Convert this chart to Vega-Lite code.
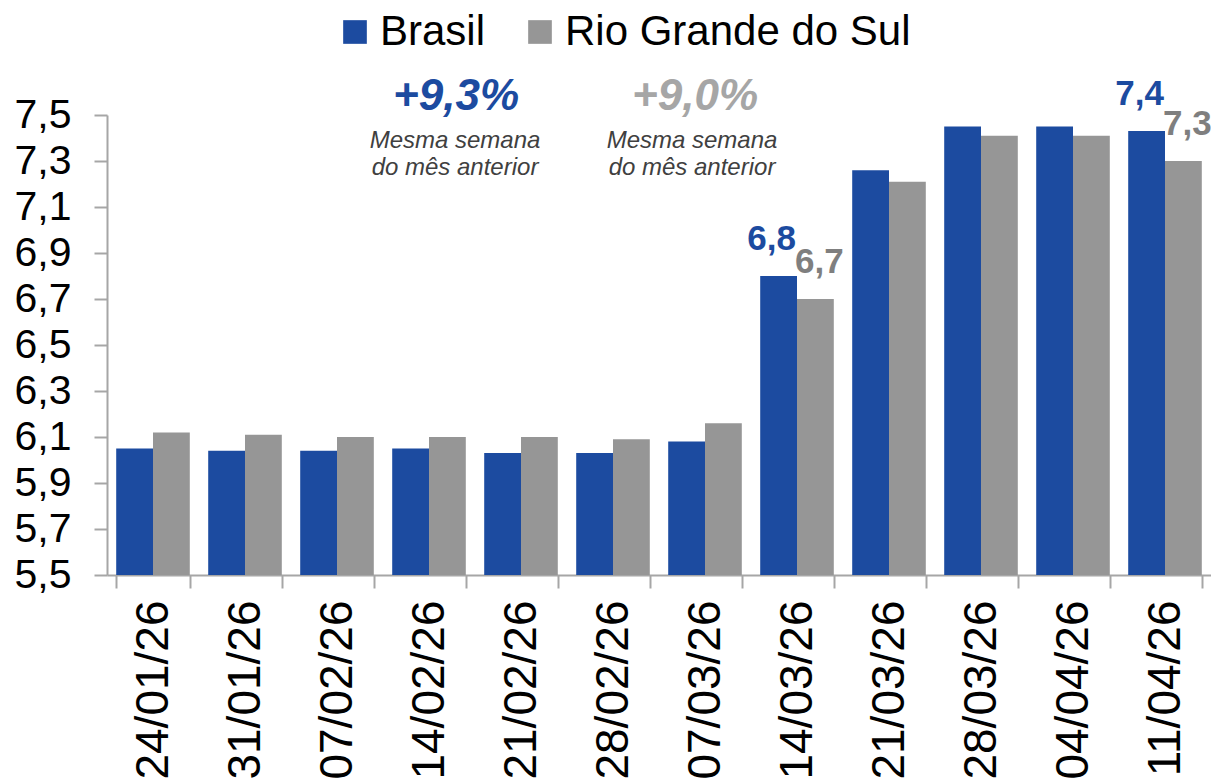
{
  "$schema": "https://vega.github.io/schema/vega-lite/v6.json",
  "autosize": "none",
  "width": 1104,
  "height": 460,
  "padding": {"left": 107, "top": 115, "right": 0, "bottom": 208},
  "background": "white",
  "config": {
    "view": {"stroke": null},
    "font": "Liberation Sans",
    "locale": {"number": {"decimal": ",", "thousands": ".", "grouping": [3], "currency": ["R$", ""]}}
  },
  "datasets": {
    "bars": [
      {"date": "24/01/26", "series": "Brasil", "value": 6.05, "show": false},
      {"date": "31/01/26", "series": "Brasil", "value": 6.04, "show": false},
      {"date": "07/02/26", "series": "Brasil", "value": 6.04, "show": false},
      {"date": "14/02/26", "series": "Brasil", "value": 6.05, "show": false},
      {"date": "21/02/26", "series": "Brasil", "value": 6.03, "show": false},
      {"date": "28/02/26", "series": "Brasil", "value": 6.03, "show": false},
      {"date": "07/03/26", "series": "Brasil", "value": 6.08, "show": false},
      {"date": "14/03/26", "series": "Brasil", "value": 6.80, "show": true},
      {"date": "21/03/26", "series": "Brasil", "value": 7.26, "show": false},
      {"date": "28/03/26", "series": "Brasil", "value": 7.45, "show": false},
      {"date": "04/04/26", "series": "Brasil", "value": 7.45, "show": false},
      {"date": "11/04/26", "series": "Brasil", "value": 7.43, "show": true},
      {"date": "24/01/26", "series": "Rio Grande do Sul", "value": 6.12, "show": false},
      {"date": "31/01/26", "series": "Rio Grande do Sul", "value": 6.11, "show": false},
      {"date": "07/02/26", "series": "Rio Grande do Sul", "value": 6.10, "show": false},
      {"date": "14/02/26", "series": "Rio Grande do Sul", "value": 6.10, "show": false},
      {"date": "21/02/26", "series": "Rio Grande do Sul", "value": 6.10, "show": false},
      {"date": "28/02/26", "series": "Rio Grande do Sul", "value": 6.09, "show": false},
      {"date": "07/03/26", "series": "Rio Grande do Sul", "value": 6.16, "show": false},
      {"date": "14/03/26", "series": "Rio Grande do Sul", "value": 6.70, "show": true},
      {"date": "21/03/26", "series": "Rio Grande do Sul", "value": 7.21, "show": false},
      {"date": "28/03/26", "series": "Rio Grande do Sul", "value": 7.41, "show": false},
      {"date": "04/04/26", "series": "Rio Grande do Sul", "value": 7.41, "show": false},
      {"date": "11/04/26", "series": "Rio Grande do Sul", "value": 7.30, "show": true}
    ],
    "notes": [
      {"date": "14/02/26", "series": "Brasil", "pct": "+9,3%", "note": "Mesma semana\ndo mês anterior"},
      {"date": "07/03/26", "series": "Rio Grande do Sul", "pct": "+9,0%", "note": "Mesma semana\ndo mês anterior"}
    ]
  },
  "layer": [
    {
      "data": {"name": "bars"},
      "mark": {"type": "bar"},
      "encoding": {
        "x": {
          "field": "date", "type": "nominal", "sort": null,
          "scale": {"paddingInner": 0.2, "paddingOuter": 0.1},
          "axis": {
            "title": null, "labelAngle": 270, "labelFontSize": 46, "labelColor": "#000000",
            "labelPadding": 12, "tickSize": 13, "tickWidth": 2, "tickColor": "#a6a6a6",
            "domainColor": "#a6a6a6", "domainWidth": 2, "tickBand": "extent", "labelFont": "Liberation Sans"
          }
        },
        "y": {
          "field": "value", "type": "quantitative",
          "scale": {"domain": [5.5, 7.5], "nice": false, "zero": false},
          "axis": {
            "title": null, "values": [5.5, 5.7, 5.9, 6.1, 6.3, 6.5, 6.7, 6.9, 7.1, 7.3, 7.5],
            "format": ".1f", "labelFontSize": 41, "labelColor": "#000000", "labelPadding": 23,
            "tickSize": 13, "tickWidth": 2, "tickColor": "#a6a6a6", "domainColor": "#a6a6a6",
            "domainWidth": 2, "grid": false, "labelOverlap": false, "labelFlush": false, "labelFont": "Liberation Sans"
          }
        },
        "xOffset": {"field": "series", "type": "nominal", "sort": ["Brasil", "Rio Grande do Sul"]},
        "y2": {"datum": 5.5},
        "color": {
          "field": "series", "type": "nominal",
          "scale": {"domain": ["Brasil", "Rio Grande do Sul"], "range": ["#1c4ba0", "#969696"]},
          "legend": {
            "title": null, "orient": "none", "legendX": 227, "legendY": -104,
            "direction": "horizontal", "symbolType": "square", "symbolSize": 560,
            "symbolStrokeWidth": 0, "labelFontSize": 42, "labelColor": "#000000",
            "labelFont": "Liberation Sans", "labelOffset": 4, "columnPadding": 33, "padding": 0,
            "labelLimit": 500
          }
        }
      }
    },
    {
      "data": {"name": "bars"},
      "transform": [{"filter": "datum.show && datum.series === 'Brasil'"}],
      "mark": {"type": "text", "fontSize": 35, "fontWeight": "bold", "baseline": "alphabetic", "dy": -26, "dx": -7, "align": "center", "color": "#1c4ba0"},
      "encoding": {
        "x": {"field": "date", "type": "nominal", "sort": null},
        "y": {"field": "value", "type": "quantitative"},
        "xOffset": {"field": "series", "type": "nominal", "sort": ["Brasil", "Rio Grande do Sul"]},
        "text": {"field": "value", "type": "quantitative", "format": ".1f"}
      }
    },
    {
      "data": {"name": "bars"},
      "transform": [{"filter": "datum.show && datum.series !== 'Brasil'"}],
      "mark": {"type": "text", "fontSize": 35, "fontWeight": "bold", "baseline": "alphabetic", "dy": -26, "dx": 4, "align": "center", "color": "#7f7f7f"},
      "encoding": {
        "x": {"field": "date", "type": "nominal", "sort": null},
        "y": {"field": "value", "type": "quantitative"},
        "xOffset": {"field": "series", "type": "nominal", "sort": ["Brasil", "Rio Grande do Sul"]},
        "text": {"field": "value", "type": "quantitative", "format": ".1f"}
      }
    },
    {
      "data": {"name": "notes"},
      "transform": [{"filter": "datum.series === 'Brasil'"}],
      "mark": {"type": "text", "fontSize": 44, "fontWeight": "bold", "fontStyle": "italic", "color": "#1c4ba0", "baseline": "alphabetic", "align": "center", "dx": 27, "dy": -5, "clip": false},
      "encoding": {
        "x": {"field": "date", "type": "nominal", "sort": null},
        "y": {"value": 0},
        "text": {"field": "pct", "type": "nominal"}
      }
    },
    {
      "data": {"name": "notes"},
      "transform": [{"filter": "datum.series !== 'Brasil'"}],
      "mark": {"type": "text", "fontSize": 44, "fontWeight": "bold", "fontStyle": "italic", "color": "#a6a6a6", "baseline": "alphabetic", "align": "center", "dx": -10, "dy": -5, "clip": false},
      "encoding": {
        "x": {"field": "date", "type": "nominal", "sort": null},
        "y": {"value": 0},
        "text": {"field": "pct", "type": "nominal"}
      }
    },
    {
      "data": {"name": "notes"},
      "transform": [{"filter": "datum.series === 'Brasil'"}],
      "mark": {"type": "text", "fontSize": 24, "fontStyle": "italic", "color": "#404040", "baseline": "alphabetic", "align": "center", "lineBreak": "\n", "lineHeight": 27, "dx": 26, "dy": 33},
      "encoding": {
        "x": {"field": "date", "type": "nominal", "sort": null},
        "y": {"value": 0},
        "text": {"field": "note", "type": "nominal"}
      }
    },
    {
      "data": {"name": "notes"},
      "transform": [{"filter": "datum.series !== 'Brasil'"}],
      "mark": {"type": "text", "fontSize": 24, "fontStyle": "italic", "color": "#404040", "baseline": "alphabetic", "align": "center", "lineBreak": "\n", "lineHeight": 27, "dx": -13, "dy": 33},
      "encoding": {
        "x": {"field": "date", "type": "nominal", "sort": null},
        "y": {"value": 0},
        "text": {"field": "note", "type": "nominal"}
      }
    }
  ]
}
